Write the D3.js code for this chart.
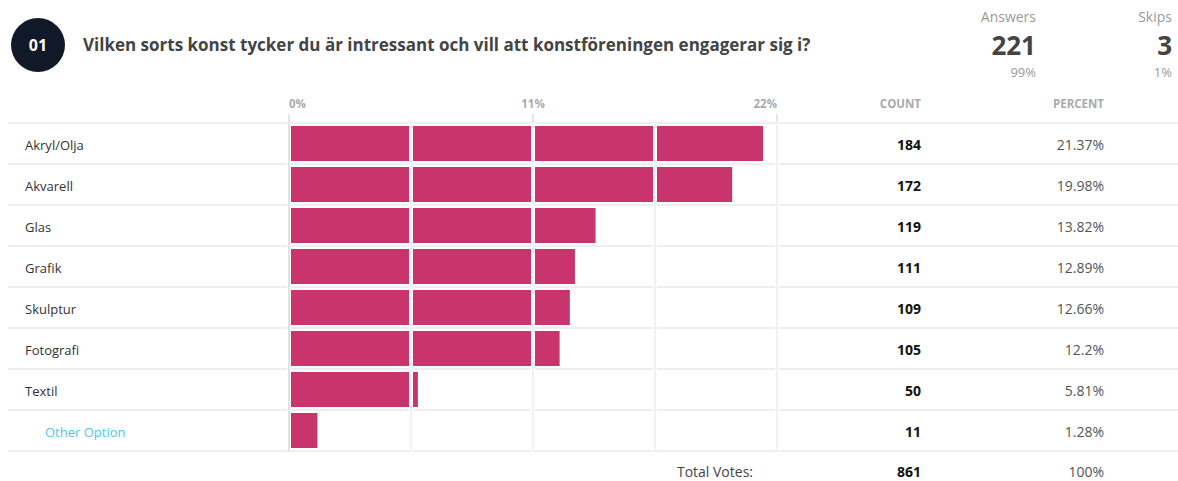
<!DOCTYPE html>
<html><head><meta charset="utf-8">
<script src="https://cdn.jsdelivr.net/npm/d3@7"></script>
<style>body{margin:0;background:#fff;}svg{display:block;font-family:"Open Sans","Noto Sans",sans-serif;}</style>
</head><body><svg id="c" width="1178" height="481"></svg>
<script>
const categories = ["Akryl/Olja","Akvarell","Glas","Grafik","Skulptur","Fotografi","Textil","Other Option"];
const counts = [184,172,119,111,109,105,50,11];
const percents = [21.37,19.98,13.82,12.89,12.66,12.2,5.81,1.28];
const tickValues = [0,11,22];
const gridValues = [0,5.5,11,16.5,22];
const totalVotes = 861;
const answers = {label:"Answers", value:221, pct:"99%"};
const skips = {label:"Skips", value:3, pct:"1%"};
const title = "Vilken sorts konst tycker du är intressant och vill att konstföreningen engagerar sig i?";

const svg = d3.select("#c");
const x = d3.scaleLinear().domain([0,22]).range([289,777]);
const y = d3.scaleBand().domain(categories).range([123,451]).padding(0);

// header
svg.append("circle").attr("cx",38).attr("cy",45).attr("r",27).attr("fill","#111827");
svg.append("text").attr("x",38).attr("y",51).attr("text-anchor","middle").attr("fill","#fff")
  .attr("font-size",16).attr("font-weight",700).text("01");
svg.append("text").attr("x",83).attr("y",51).attr("fill","#444").attr("font-size",17).attr("font-weight",700).text(title);

[[answers,1036],[skips,1172]].forEach(([d,xr])=>{
  svg.append("text").attr("x",xr).attr("y",22).attr("text-anchor","end").attr("fill","#999").attr("font-size",14).text(d.label);
  svg.append("text").attr("x",xr).attr("y",55).attr("text-anchor","end").attr("fill","#444").attr("font-size",26).attr("font-weight",700).text(d.value);
  svg.append("text").attr("x",xr).attr("y",77).attr("text-anchor","end").attr("fill","#999").attr("font-size",13).text(d.pct);
});

// column headers
svg.selectAll(".tk").data(tickValues).join("text")
  .attr("x",d=>x(d)).attr("y",108)
  .attr("text-anchor",(d,i)=> i===0?"start":(i===tickValues.length-1?"end":"middle"))
  .attr("fill","#aaa").attr("font-size",11.5).attr("font-weight",700).text(d=>d+"%");
svg.selectAll(".tm").data(tickValues).join("line")
  .attr("x1",d=>x(d)).attr("x2",d=>x(d)).attr("y1",114).attr("y2",123).attr("stroke","#ddd").attr("stroke-width",1.5);
svg.append("text").attr("x",921).attr("y",108).attr("text-anchor","end").attr("fill","#aaa").attr("font-size",11.5).attr("font-weight",700).text("COUNT");
svg.append("text").attr("x",1104).attr("y",108).attr("text-anchor","end").attr("fill","#aaa").attr("font-size",11.5).attr("font-weight",700).text("PERCENT");

// row separators
const seps = [123].concat(categories.map(c=>y(c)+y.bandwidth()));
svg.selectAll(".sep").data(seps).join("line")
  .attr("x1",8).attr("x2",1178).attr("y1",d=>d).attr("y2",d=>d).attr("stroke","#eeeeee").attr("stroke-width",2);

// bars
svg.selectAll(".bar").data(categories).join("rect")
  .attr("x",x(0)+1).attr("y",d=>y(d)+3).attr("height",y.bandwidth()-6)
  .attr("width",(d,i)=>x(percents[i])-x(0)-1).attr("fill","#c9346c");

// gridlines over bars
const g = svg.append("g");
g.selectAll(".gw").data(gridValues).join("line")
  .attr("x1",d=>x(d)).attr("x2",d=>x(d)).attr("y1",123).attr("y2",451).attr("stroke","#fff").attr("stroke-width",4);
g.selectAll(".gg").data(gridValues).join("line")
  .attr("x1",d=>x(d)).attr("x2",d=>x(d)).attr("y1",123).attr("y2",451).attr("stroke",(d,i)=>i===0?"#d8d8d8":"#eeeeee").attr("stroke-width",1.5);

// labels
svg.selectAll(".lab").data(categories).join("text")
  .attr("x",(d,i)=> i===categories.length-1 ? 45 : 25)
  .attr("y",d=>y(d)+y.bandwidth()/2+6)
  .attr("fill",(d,i)=> i===categories.length-1 ? "#4fc6e8" : "#333")
  .attr("font-size",13).text(d=>d);
svg.selectAll(".cnt").data(categories).join("text")
  .attr("x",921).attr("y",d=>y(d)+y.bandwidth()/2+6).attr("text-anchor","end")
  .attr("fill","#111").attr("font-size",14).attr("font-weight",700).text((d,i)=>counts[i]);
svg.selectAll(".pct").data(categories).join("text")
  .attr("x",1104).attr("y",d=>y(d)+y.bandwidth()/2+6).attr("text-anchor","end")
  .attr("fill","#555").attr("font-size",14).text((d,i)=>percents[i]+"%");

// total
svg.append("text").attr("x",753).attr("y",477).attr("text-anchor","end").attr("fill","#444").attr("font-size",14).text("Total Votes:");
svg.append("text").attr("x",921).attr("y",477).attr("text-anchor","end").attr("fill","#111").attr("font-size",14).attr("font-weight",700).text(totalVotes);
svg.append("text").attr("x",1104).attr("y",477).attr("text-anchor","end").attr("fill","#555").attr("font-size",14).text("100%");
</script></body></html>
